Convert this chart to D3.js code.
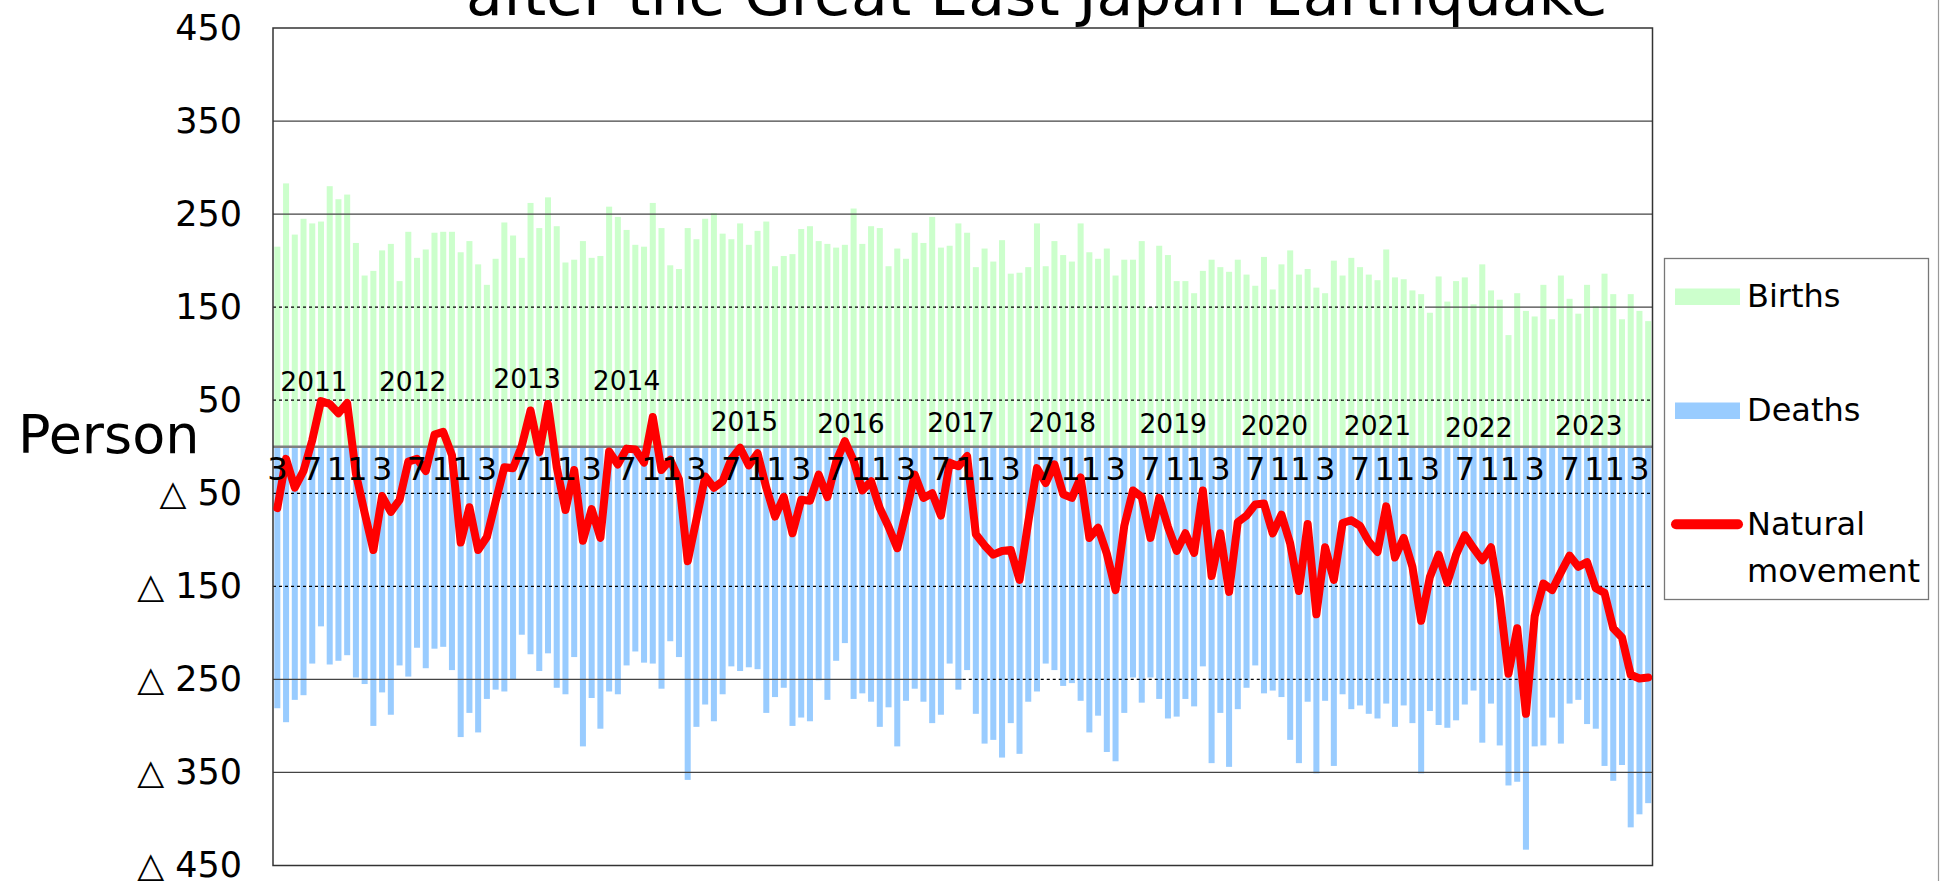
<!DOCTYPE html>
<html>
<head>
<meta charset="utf-8">
<script src="https://cdn.jsdelivr.net/npm/d3@7"></script>
<style>
  body { margin: 0; background: #fff; }
  svg { display: block; font-family: "DejaVu Sans", sans-serif; }
</style>
</head>
<body>
<svg id="chart" width="1945" height="881"></svg>
<script>
// monthly figures, March 2011 .. April 2024 (one row = 12 months from March)
var births = [
  215, 283, 228, 245, 240, 242, 280, 266, 271, 219, 184, 189,
  211, 218, 178, 231, 203, 212, 230, 231, 231, 209, 221, 196,
  174, 202, 241, 227, 203, 262, 235, 268, 237, 198, 201, 221,
  203, 205, 258, 247, 233, 217, 215, 262, 235, 195, 191, 235,
  223, 245, 251, 229, 223, 240, 217, 232, 242, 194, 205, 207,
  234, 237, 221, 218, 214, 217, 256, 218, 237, 235, 194, 213,
  202, 230, 219, 247, 214, 216, 240, 230, 193, 213, 199, 222,
  186, 187, 193, 240, 194, 221, 206, 199, 240, 209, 202, 213,
  184, 201, 201, 221, 150, 216, 206, 178, 178, 165, 189, 201,
  193, 188, 201, 185, 173, 204, 169, 196, 211, 185, 191, 171,
  165, 200, 184, 203, 193, 185, 179, 212, 182, 180, 168, 164,
  144, 183, 156, 178, 182, 153, 196, 168, 158, 120, 165, 146,
  140, 174, 137, 184, 159, 143, 174, 151, 186, 164, 137, 164,
  146, 135
];
var deaths = [
  -281, -296, -272, -267, -233, -193, -234, -230, -224, -248, -255, -300,
  -264, -288, -235, -247, -216, -238, -217, -215, -240, -312, -286, -307,
  -271, -261, -263, -250, -202, -223, -241, -222, -259, -266, -226, -322,
  -270, -303, -263, -266, -235, -220, -232, -233, -260, -209, -226, -358,
  -301, -277, -295, -266, -236, -241, -237, -239, -286, -269, -259, -300,
  -291, -295, -251, -272, -230, -211, -271, -265, -274, -301, -280, -322,
  -273, -260, -274, -297, -288, -233, -261, -240, -287, -319, -315, -334,
  -297, -330, -274, -263, -233, -240, -257, -254, -273, -307, -289, -328,
  -338, -286, -248, -275, -248, -271, -292, -290, -271, -279, -236, -340,
  -286, -344, -282, -259, -235, -265, -262, -269, -315, -340, -274, -351,
  -273, -343, -266, -282, -278, -287, -292, -276, -301, -278, -297, -351,
  -284, -299, -302, -294, -277, -262, -318, -276, -321, -364, -360, -433,
  -322, -321, -291, -319, -276, -272, -298, -303, -343, -359, -342, -409,
  -395, -383
];
var natural = [
  -66, -13, -44, -26, 7, 49, 46, 36, 47, -29, -71, -111,
  -53, -70, -57, -16, -13, -26, 13, 16, -9, -103, -65, -111,
  -97, -59, -22, -23, 1, 39, -6, 46, -22, -68, -25, -101,
  -67, -98, -5, -19, -2, -3, -17, 32, -25, -14, -35, -123,
  -78, -32, -44, -37, -13, -1, -20, -7, -44, -75, -54, -93,
  -57, -58, -30, -54, -16, 6, -15, -47, -37, -66, -86, -109,
  -71, -30, -55, -50, -74, -17, -21, -10, -94, -106, -116, -112,
  -111, -143, -81, -23, -39, -19, -51, -55, -33, -98, -87, -115,
  -154, -85, -47, -54, -98, -55, -86, -112, -93, -114, -47, -139,
  -93, -156, -81, -74, -62, -61, -93, -73, -104, -155, -83, -180,
  -108, -143, -82, -79, -85, -102, -113, -64, -119, -98, -129, -187,
  -140, -116, -146, -116, -95, -109, -122, -108, -163, -244, -195, -287,
  -182, -147, -154, -135, -117, -129, -124, -152, -157, -195, -205, -245,
  -249, -248
];

var yTicks = [450, 350, 250, 150, 50, -50, -150, -250, -350, -450];
var yearLabels = ["2011", "2012", "2013", "2014", "2015", "2016", "2017",
                  "2018", "2019", "2020", "2021", "2022", "2023"];
// where each year label sits: month index and height in persons
var yearAt = [4.2, 15.5, 28.6, 40.0, 53.5, 65.7, 78.3, 89.9, 102.6, 114.2, 126.0, 137.6, 150.2];
var yearLevel = [60, 60, 63, 61, 17, 15, 16, 16, 15, 13, 13, 11, 13];
var legendNames = ["Births", "Deaths", "Natural", "movement"];

var months = d3.range(births.length).map(function (i) { return new Date(2011, 2 + i, 1); });

var svg = d3.select("#chart");
var L = 273, R = 1652.5, T = 28, B = 865.5;

var x = d3.scaleBand().domain(d3.range(births.length)).range([L, R])
  .paddingInner(0.31).paddingOuter(0.15);
var y = d3.scaleLinear().domain([-450, 450]).range([B, T]);
var cx = function (i) { return x(0) + x.bandwidth() / 2 + i * x.step(); };

// bars
svg.append("g").selectAll("rect").data(births).join("rect")
  .attr("x", function (d, i) { return x(i); })
  .attr("width", x.bandwidth())
  .attr("y", function (d) { return y(d); })
  .attr("height", function (d) { return y(0) - y(d); })
  .attr("fill", "#ccffcc");

svg.append("g").selectAll("rect").data(deaths).join("rect")
  .attr("x", function (d, i) { return x(i); })
  .attr("width", x.bandwidth())
  .attr("y", y(0))
  .attr("height", function (d) { return y(d) - y(0); })
  .attr("fill", "#99ccff");

// gridlines (the original mixes solid and dotted pieces)
var rules = [
  { v: 350, a: 0, b: 158, dash: false },
  { v: 250, a: 0, b: 158, dash: false },
  { v: 150, a: 0, b: 132, dash: true },
  { v: 150, a: 132, b: 158, dash: false },
  { v: 50, a: 0, b: 158, dash: true },
  { v: -50, a: 0, b: 158, dash: true },
  { v: -150, a: 0, b: 158, dash: true },
  { v: -250, a: 0, b: 79, dash: false },
  { v: -250, a: 79, b: 158, dash: true },
  { v: -350, a: 0, b: 158, dash: false }
];
var edge = function (i) { return i >= 158 ? R : (i <= 0 ? L : x(i) - x.step() * x.paddingInner() / 2); };
svg.append("g").selectAll("line").data(rules).join("line")
  .attr("x1", function (d) { return edge(d.a); })
  .attr("x2", function (d) { return edge(d.b); })
  .attr("y1", function (d) { return y(d.v); })
  .attr("y2", function (d) { return y(d.v); })
  .attr("stroke", function (d) { return d.dash ? "#000" : "#444"; })
  .attr("stroke-width", 1.3)
  .attr("stroke-dasharray", function (d) { return d.dash ? "3,3" : null; });

svg.append("line")
  .attr("x1", L).attr("x2", R).attr("y1", y(0)).attr("y2", y(0))
  .attr("stroke", "#808080").attr("stroke-width", 2.5);

svg.append("rect")
  .attr("x", L).attr("y", T).attr("width", R - L).attr("height", B - T)
  .attr("fill", "none").attr("stroke", "#333").attr("stroke-width", 1.5);

// y axis
var yAxis = svg.append("g").attr("transform", "translate(242,0)")
  .call(d3.axisLeft(y).tickValues(yTicks).tickSize(0).tickPadding(0)
    .tickFormat(function (v) { return v < 0 ? "\u25B3 " + (-v) : v; }));
yAxis.select(".domain").remove();
yAxis.selectAll("text").attr("font-size", 35).attr("font-family", "DejaVu Sans").attr("fill", "#000");

// natural movement line
svg.append("path").datum(natural)
  .attr("d", d3.line()
    .x(function (d, i) { return x(i) + x.bandwidth() / 2; })
    .y(function (d) { return y(d); }))
  .attr("fill", "none").attr("stroke", "#ff0000").attr("stroke-width", 8)
  .attr("stroke-linejoin", "round").attr("stroke-linecap", "round");

// month labels 3 / 7 / 11
var mAxis = svg.append("g").attr("transform", "translate(0," + y(0) + ")")
  .call(d3.axisBottom(x)
    .tickValues(d3.range(births.length).filter(function (i) { return i % 4 === 0; }))
    .tickSize(0).tickPadding(10.6)
    .tickFormat(function (i) { return months[i].getMonth() + 1; }));
mAxis.select(".domain").remove();
mAxis.selectAll("text").attr("font-size", 32).attr("font-family", "DejaVu Sans").attr("fill", "#000");

// year labels
svg.append("g").selectAll("text").data(yearLabels).join("text")
  .attr("x", function (d, i) { return cx(yearAt[i]); })
  .attr("y", function (d, i) { return y(yearLevel[i]); })
  .attr("text-anchor", "middle")
  .attr("font-size", 26.5)
  .text(function (d) { return d; });

// axis title and chart title (title is cut by the top edge)
svg.append("text").attr("x", 18).attr("y", 452.7).attr("font-size", 54).text("Person");
svg.append("text").attr("x", 466).attr("y", 15).attr("font-size", 58)
  .attr("textLength", 1142).attr("lengthAdjust", "spacingAndGlyphs")
  .text("after the Great East Japan Earthquake");

// legend
var lg = svg.append("g");
lg.append("rect").attr("x", 1664.5).attr("y", 258.5).attr("width", 264).attr("height", 341)
  .attr("fill", "#fff").attr("stroke", "#777").attr("stroke-width", 1.3);
lg.append("rect").attr("x", 1675).attr("y", 288.5).attr("width", 65).attr("height", 16.5).attr("fill", "#ccffcc");
lg.append("rect").attr("x", 1675).attr("y", 402.5).attr("width", 65).attr("height", 16.5).attr("fill", "#99ccff");
lg.append("line").attr("x1", 1676).attr("x2", 1738).attr("y1", 524.3).attr("y2", 524.3)
  .attr("stroke", "#ff0000").attr("stroke-width", 10).attr("stroke-linecap", "round");
var legendY = [306.7, 420.7, 535, 581.7];
lg.selectAll("text.lt").data(legendNames).join("text").attr("class", "lt")
  .attr("x", 1747).attr("y", function (d, i) { return legendY[i]; })
  .attr("font-size", 32).text(function (d) { return d; });

// outer chart border on the right
svg.append("line").attr("x1", 1938.5).attr("x2", 1938.5).attr("y1", 0).attr("y2", 881)
  .attr("stroke", "#999").attr("stroke-width", 1.2);
</script>
</body>
</html>
